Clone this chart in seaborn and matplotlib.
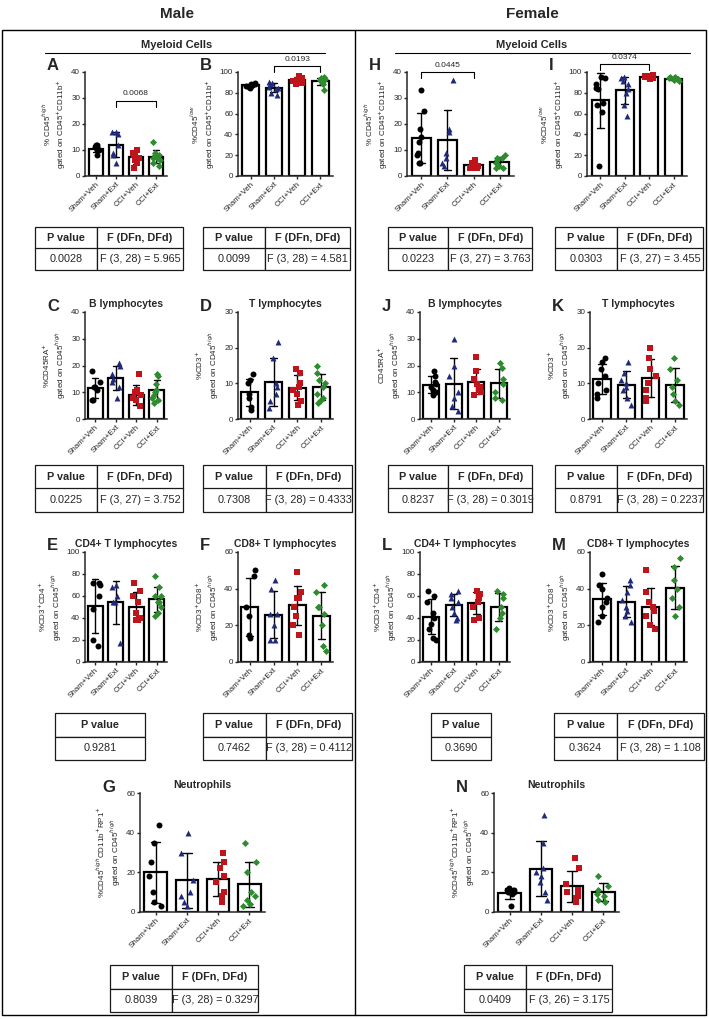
import numpy as np
import pandas as pd
import matplotlib.pyplot as plt
import seaborn as sns

sns.set_theme(style="ticks")
plt.rcParams['font.family'] = ['Liberation Sans', 'DejaVu Sans']

groups = ['Sham+Veh', 'Sham+Ext', 'CCI+Veh', 'CCI+Ext']
markers = ['o', '^', 's', 'D']
colors = ['black', '#1f2a7a', '#c0141c', '#2e8b2e']

# per panel points: [Sham+Veh, Sham+Ext, CCI+Veh, CCI+Ext]
A_vals = [[12, 11, 11, 10, 10, 8, 12], [17, 16, 12, 9, 5, 8, 17], [10, 9, 8, 6, 5, 3, 7, 9], [13, 9, 8, 7, 5, 6, 4, 7, 8]]
B_vals = [[88, 87, 86, 88, 85, 87, 89], [90, 88, 85, 80, 78, 86, 89, 84], [96, 94, 92, 90, 88, 95, 91, 89], [95, 93, 92, 90, 88, 83, 94, 91, 92]]
C_vals = [[18, 14, 12, 11, 12, 7, 7], [21, 20, 17, 15, 12, 14, 8], [17, 11, 10, 8, 7, 5, 5, 9], [17, 16, 13, 11, 9, 7, 6, 8, 10]]
D_vals = [[12.5, 11, 10, 7, 6, 3.5, 2.5], [21.5, 17, 10, 7, 5, 3, 9], [14, 13, 10, 8, 7, 5, 4, 9], [15, 13, 11, 10, 9, 7, 6, 4.5, 5]]
E_vals = [[72, 72, 70, 60, 48, 20, 15], [70, 68, 60, 55, 55, 17], [72, 65, 60, 55, 45, 40, 38, 38, 40], [78, 68, 60, 55, 50, 45, 42, 55, 60]]
F_vals = [[50, 47, 30, 25, 15, 13], [45, 40, 26, 20, 12, 12, 26], [49, 38, 35, 30, 25, 20, 15, 35], [42, 38, 30, 26, 20, 9, 6, 30]]
G_vals = [[44, 35, 25, 18, 10, 5, 3], [40, 30, 16, 10, 8, 5, 3], [30, 25, 22, 18, 15, 10, 8, 5], [35, 25, 20, 10, 6, 4, 3, 8]]
H_vals = [[33, 25, 18, 15, 13, 9, 5, 5, 8], [37, 18, 17, 9, 7, 5, 4], [6, 5, 4, 3, 3, 4, 5, 3], [8, 7, 6, 5, 4, 3, 3, 7]]
I_vals = [[95, 94, 88, 85, 84, 62, 68, 10, 70], [95, 94, 91, 88, 84, 80, 68, 58], [97, 96, 95, 94, 95, 93, 96, 94], [95, 94, 93, 92, 93, 91, 94, 95]]
J_vals = [[18, 16, 14, 13, 12, 11, 10, 9], [30, 20, 16, 10, 5, 3, 8], [23, 18, 15, 13, 12, 11, 10, 9], [21, 19, 15, 13, 10, 8, 7]]
K_vals = [[17, 16, 14, 12, 10, 8, 7, 6], [16, 13, 11, 10, 9, 8, 6, 4], [20, 17, 14, 12, 10, 8, 6, 5], [17, 14, 11, 9, 7, 5, 4]]
L_vals = [[65, 60, 55, 45, 40, 30, 22, 20, 35], [65, 62, 58, 55, 50, 45, 40, 38], [65, 62, 60, 58, 55, 50, 40, 38], [65, 62, 58, 50, 45, 40, 30]]
M_vals = [[48, 42, 40, 35, 33, 30, 25, 22], [45, 42, 38, 34, 30, 28, 25, 22], [50, 38, 33, 30, 28, 25, 20, 18], [57, 52, 45, 40, 35, 30, 25]]
N_vals = [[12, 11, 11, 10, 10, 10, 9, 3], [49, 35, 22, 20, 18, 15, 10, 6], [27, 22, 14, 11, 10, 8, 5, 7], [18, 13, 11, 9, 8, 6, 5]]

W, H = 709, 1019
fig = plt.figure(figsize=(W / 100, H / 100), dpi=100)


def rect(x0, y0, x1, y1):
    return [x0 / W, 1 - y1 / H, (x1 - x0) / W, (y1 - y0) / H]


def panel(box, vals, ymax, step, ylabel, letter, title=None, bracket=None, pval=None):
    ax = fig.add_axes(rect(*box))
    rows = [(g, v) for g, vs in zip(groups, vals) for v in vs]
    df = pd.DataFrame(rows, columns=['group', 'value'])
    sns.barplot(data=df, x='group', y='value', order=groups, errorbar='sd', ax=ax,
                color='white', edgecolor='black', linewidth=1.6, width=0.72,
                err_kws={'color': 'black', 'linewidth': 1}, capsize=0.3)
    for g, m, c in zip(groups, markers, colors):
        sub = df[df.group == g]
        sns.stripplot(data=sub, x='group', y='value', order=groups, marker=m, color=c,
                      size=4.3 if m != 'D' else 3.6, jitter=0.22, ax=ax, zorder=3)
    ax.set_ylim(0, ymax)
    ax.set_yticks(np.arange(0, ymax + 1, step))
    ax.set_xlabel('')
    ax.set_ylabel(ylabel, fontsize=5.8, labelpad=2)
    ax.tick_params(axis='y', labelsize=5.8, length=2.5, pad=1, width=1)
    ax.tick_params(axis='x', labelsize=5.8, length=2.5, pad=1, rotation=45, width=1)
    for t in ax.get_xticklabels():
        t.set_ha('right')
        t.set_rotation_mode('anchor')
    for s in ax.spines.values():
        s.set_linewidth(1.1)
    sns.despine(ax=ax)
    x0, y0, w, h = rect(*box)
    fig.text(x0 - 38 / W, y0 + h + 6 / H, letter, fontsize=12, fontweight='bold', va='center')
    if title:
        fig.text(x0 + w / 2, y0 + h + 8 / H, title, fontsize=7.5, fontweight='bold', ha='center', va='center')
    if bracket:
        i, j, yb = bracket
        ax.plot([i, i, j, j], [yb - ymax * 0.06, yb, yb, yb - ymax * 0.06], color='black', lw=0.8, clip_on=False)
        ax.text((i + j) / 2, yb + ymax * 0.03, pval, fontsize=6, ha='center', va='bottom')
    return ax


def table(box, p, f=None):
    ax = fig.add_axes(rect(*box))
    ax.axis('off')
    if f is None:
        cells = [['P value'], [p]]
    else:
        cells = [['P value', 'F (DFn, DFd)'], [p, f]]
    tb = ax.table(cellText=cells, bbox=[0, 0, 1, 1], cellLoc='center',
                  colWidths=None if f is None else [0.42, 0.58])
    tb.auto_set_font_size(False)
    for (r, c), cell in tb.get_celld().items():
        cell.set_fontsize(7.8)
        cell.set_linewidth(0.9)
        if r == 0:
            cell.get_text().set_fontweight('bold')


# headers and frame
fig.text(177 / W, 1 - 14 / H, 'Male', fontsize=11, fontweight='bold', ha='center', va='center')
fig.text(532 / W, 1 - 14 / H, 'Female', fontsize=11, fontweight='bold', ha='center', va='center')
fig.add_artist(plt.Rectangle((2 / W, 4 / H), 704 / W, 985 / H, fill=False, lw=1, color='black', transform=fig.transFigure))
fig.add_artist(plt.Line2D([355 / W, 355 / W], [4 / H, 1 - 30 / H], lw=1, color='black', transform=fig.transFigure))
for xc, xa, xb in [(177, 45, 325), (532, 395, 690)]:
    fig.text(xc / W, 1 - 45 / H, 'Myeloid Cells', fontsize=8, fontweight='bold', ha='center', va='center')
    fig.add_artist(plt.Line2D([xa / W, xb / W], [1 - 53 / H, 1 - 53 / H], lw=0.8, color='black', transform=fig.transFigure))

# Male
panel((85, 72, 167, 176), A_vals, 40, 10, '% CD45$^{high}$\ngated on CD45$^{+}$CD11b$^{+}$', 'A', bracket=(1, 3, 29), pval='0.0068')
panel((238, 72, 333, 176), B_vals, 100, 20, '%CD45$^{low}$\ngated on CD45$^{+}$CD11b$^{+}$', 'B', bracket=(1, 3, 106), pval='0.0193')
panel((85, 312, 167, 419), C_vals, 40, 10, '%CD45RA$^{+}$\ngated on CD45$^{high}$', 'C', title='B lymphocytes')
panel((238, 312, 333, 419), D_vals, 30, 10, '%CD3$^{+}$\ngated on CD45$^{high}$', 'D', title='T lymphocytes')
panel((85, 552, 167, 662), E_vals, 100, 20, '%CD3$^{+}$CD4$^{+}$\ngated on CD45$^{high}$', 'E', title='CD4+ T lymphocytes')
panel((238, 552, 333, 662), F_vals, 60, 20, '%CD3$^{+}$CD8$^{+}$\ngated on CD45$^{high}$', 'F', title='CD8+ T lymphocytes')
panel((140, 793, 265, 912), G_vals, 60, 20, '%CD45$^{high}$CD11b$^{+}$RP1$^{+}$\ngated on CD45$^{high}$', 'G', title='Neutrophils')

# Female
panel((407, 72, 514, 176), H_vals, 40, 10, '% CD45$^{high}$\ngated on CD45$^{+}$CD11b$^{+}$', 'H', bracket=(0, 2, 40), pval='0.0445')
panel((587, 72, 687, 176), I_vals, 100, 20, '%CD45$^{low}$\ngated on CD45$^{+}$CD11b$^{+}$', 'I', bracket=(0, 2, 108), pval='0.0374')
panel((420, 312, 510, 419), J_vals, 40, 10, 'CD45RA$^{+}$\ngated on CD45$^{high}$', 'J', title='B lymphocytes')
panel((590, 312, 687, 419), K_vals, 30, 10, '%CD3$^{+}$\ngated on CD45$^{high}$', 'K', title='T lymphocytes')
panel((420, 552, 510, 662), L_vals, 100, 20, '%CD3$^{+}$CD4$^{+}$\ngated on CD45$^{high}$', 'L', title='CD4+ T lymphocytes')
panel((590, 552, 687, 662), M_vals, 60, 20, '%CD3$^{+}$CD8$^{+}$\ngated on CD45$^{high}$', 'M', title='CD8+ T lymphocytes')
panel((494, 793, 619, 912), N_vals, 60, 20, '%CD45$^{high}$CD11b$^{+}$RP1$^{+}$\ngated on CD45$^{high}$', 'N', title='Neutrophils')

# tables
table((35, 227, 183, 270), '0.0028', 'F (3, 28) = 5.965')
table((203, 227, 350, 270), '0.0099', 'F (3, 28) = 4.581')
table((35, 465, 183, 512), '0.0225', 'F (3, 27) = 3.752')
table((203, 465, 352, 512), '0.7308', 'F (3, 28) = 0.4333')
table((55, 713, 145, 760), '0.9281')
table((203, 713, 352, 760), '0.7462', 'F (3, 28) = 0.4112')
table((110, 965, 258, 1012), '0.8039', 'F (3, 28) = 0.3297')
table((388, 227, 532, 270), '0.0223', 'F (3, 27) = 3.763')
table((555, 227, 703, 270), '0.0303', 'F (3, 27) = 3.455')
table((388, 465, 532, 512), '0.8237', 'F (3, 28) = 0.3019')
table((555, 465, 703, 512), '0.8791', 'F (3, 28) = 0.2237')
table((431, 713, 491, 760), '0.3690')
table((554, 713, 704, 760), '0.3624', 'F (3, 28) = 1.108')
table((464, 965, 612, 1012), '0.0409', 'F (3, 26) = 3.175')

fig.savefig('out.png', dpi=100)
